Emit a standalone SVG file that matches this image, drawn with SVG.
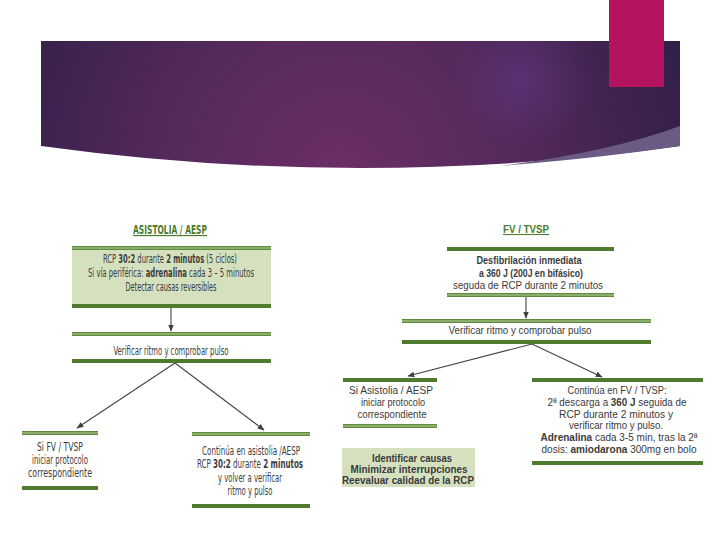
<svg xmlns="http://www.w3.org/2000/svg" width="720" height="540" viewBox="0 0 720 540">
<defs>
  <radialGradient id="bandGrad" gradientUnits="userSpaceOnUse" cx="340" cy="175" r="380">
    <stop offset="0" stop-color="#6b2e66"/>
    <stop offset="0.45" stop-color="#55295c"/>
    <stop offset="1" stop-color="#2e1f46"/>
  </radialGradient>
  <radialGradient id="glow" gradientUnits="userSpaceOnUse" cx="520" cy="80" r="70">
    <stop offset="0" stop-color="#5a3478" stop-opacity="0.8"/>
    <stop offset="1" stop-color="#5a3478" stop-opacity="0"/>
  </radialGradient>
  <marker id="arr" viewBox="0 0 10 10" refX="9" refY="5" markerWidth="7" markerHeight="7" orient="auto" markerUnits="userSpaceOnUse">
    <path d="M0,1 L10,5 L0,9 Z" fill="#3f3f3f"/>
  </marker>
  <style>
    .solid{fill:#4e7b2e}
    .dbl{fill:#5f8c3c}
    .dblin{fill:#b9cf9c}
    .cond{font-family:"Liberation Sans Narrow","DejaVu Sans Condensed","Liberation Sans",sans-serif;font-size:11.5px;fill:#3d3d3d}
    .hum{font-family:"Liberation Sans","Noto Sans",sans-serif;font-size:10.5px;fill:#3a3a3a}
    .b{font-weight:bold}
    .title{font-weight:bold;fill:#4a7a2a;text-decoration:underline}
    .conn{stroke:#444;stroke-width:1.1;fill:none}
  </style>
</defs>
<rect width="720" height="540" fill="#ffffff"/>

<!-- header band -->
<path d="M41,41 H680 V146 Q360,190 41,146 Z" fill="url(#bandGrad)"/>
<path d="M41,41 H680 V146 Q360,190 41,146 Z" fill="url(#glow)"/>
<path d="M680,126 Q610,152 500,166 Q600,158 680,146 Z" fill="#6b5a83"/>
<rect x="609" y="0" width="55" height="87" fill="#b5135f"/>

<!-- connectors -->
<g id="connectors">
  <line class="conn" x1="171" y1="308" x2="171" y2="331" marker-end="url(#arr)"/>
  <line class="conn" x1="175" y1="363" x2="77" y2="428" marker-end="url(#arr)"/>
  <line class="conn" x1="175" y1="363" x2="264" y2="430" marker-end="url(#arr)"/>
  <line class="conn" x1="526" y1="297" x2="526" y2="318" marker-end="url(#arr)"/>
  <line class="conn" x1="532" y1="344" x2="408" y2="376" marker-end="url(#arr)"/>
  <line class="conn" x1="532" y1="344" x2="602" y2="377" marker-end="url(#arr)"/>
</g>

<!-- LEFT: Asistolia -->
<g id="title-asistolia">
  <text class="cond title" x="170" y="234" text-anchor="middle" textLength="74" lengthAdjust="spacingAndGlyphs">ASISTOLIA / AESP</text>
</g>

<g id="box-asistolia">
  <rect x="72" y="249" width="199" height="56" fill="#d5e0bf"/>
  <rect class="dbl" x="72" y="246" width="199" height="4"/>
  <rect class="dblin" x="72" y="247.5" width="199" height="1"/>
  <rect class="solid" x="72" y="304" width="199" height="4"/>
  <text class="cond" x="170" y="263" text-anchor="middle" textLength="134" lengthAdjust="spacingAndGlyphs">RCP <tspan class="b">30:2</tspan> durante <tspan class="b">2 minutos</tspan> (5 ciclos)</text>
  <text class="cond" x="171" y="277" text-anchor="middle" textLength="166" lengthAdjust="spacingAndGlyphs">Si vía periférica: <tspan class="b">adrenalina</tspan> cada 3 – 5 minutos</text>
  <text class="cond" x="171" y="291" text-anchor="middle" textLength="91" lengthAdjust="spacingAndGlyphs">Detectar causas reversibles</text>
</g>

<g id="verif-left">
  <rect class="dbl" x="72" y="332" width="199" height="4"/>
  <rect class="dblin" x="72" y="333.5" width="199" height="1"/>
  <rect class="solid" x="72" y="359" width="199" height="4"/>
  <text class="cond" x="171" y="355" text-anchor="middle" textLength="115" lengthAdjust="spacingAndGlyphs">Verificar ritmo y comprobar pulso</text>
</g>

<g id="si-fv">
  <rect class="dbl" x="22" y="431" width="76" height="4"/>
  <rect class="dblin" x="22" y="432.5" width="76" height="1"/>
  <rect class="solid" x="22" y="486" width="76" height="4"/>
  <text class="cond" x="60" y="451" text-anchor="middle" textLength="46" lengthAdjust="spacingAndGlyphs">Si FV / TVSP</text>
  <text class="cond" x="60" y="464" text-anchor="middle" textLength="56" lengthAdjust="spacingAndGlyphs">iniciar protocolo</text>
  <text class="cond" x="60" y="477" text-anchor="middle" textLength="64" lengthAdjust="spacingAndGlyphs">correspondiente</text>
</g>

<g id="continua-asistolia">
  <rect class="dbl" x="192" y="432" width="118" height="4"/>
  <rect class="dblin" x="192" y="433.5" width="118" height="1"/>
  <rect class="solid" x="192" y="504" width="118" height="4"/>
  <text class="cond" x="251" y="455" text-anchor="middle" textLength="98" lengthAdjust="spacingAndGlyphs">Continúa en asistolia /AESP</text>
  <text class="cond" x="250" y="468" text-anchor="middle" textLength="106" lengthAdjust="spacingAndGlyphs">RCP <tspan class="b">30:2</tspan> durante <tspan class="b">2 minutos</tspan></text>
  <text class="cond" x="250" y="482" text-anchor="middle" textLength="64" lengthAdjust="spacingAndGlyphs">y volver a verificar</text>
  <text class="cond" x="250" y="495" text-anchor="middle" textLength="45" lengthAdjust="spacingAndGlyphs">ritmo y pulso</text>
</g>

<!-- RIGHT: FV / TVSP -->
<g id="title-fv">
  <text class="hum title" x="526" y="233" text-anchor="middle" textLength="46" lengthAdjust="spacingAndGlyphs">FV / TVSP</text>
</g>

<g id="box-desfib">
  <rect class="solid" x="447" y="247" width="167" height="4"/>
  <rect class="dbl" x="447" y="293" width="167" height="4"/>
  <rect class="dblin" x="447" y="294.5" width="167" height="1"/>
  <text class="hum b" x="529" y="264" text-anchor="middle" textLength="105" lengthAdjust="spacingAndGlyphs">Desfibrilación inmediata</text>
  <text class="hum b" x="531" y="277" text-anchor="middle" textLength="104" lengthAdjust="spacingAndGlyphs">a 360 J (200J en bifásico)</text>
  <text class="hum" x="528" y="289" text-anchor="middle" textLength="150" lengthAdjust="spacingAndGlyphs">seguda de RCP durante 2 minutos</text>
</g>

<g id="verif-right">
  <rect class="dbl" x="402" y="319" width="249" height="4"/>
  <rect class="dblin" x="402" y="320.5" width="249" height="1"/>
  <rect class="solid" x="402" y="340" width="249" height="4"/>
  <text class="hum" x="520" y="334" text-anchor="middle" textLength="143" lengthAdjust="spacingAndGlyphs">Verificar ritmo y comprobar pulso</text>
</g>

<g id="si-asistolia">
  <rect class="solid" x="343" y="378" width="94" height="4"/>
  <rect class="dbl" x="343" y="424" width="94" height="4"/>
  <rect class="dblin" x="343" y="425.5" width="94" height="1"/>
  <text class="hum" x="391" y="394" text-anchor="middle" textLength="84" lengthAdjust="spacingAndGlyphs">Si Asistolia  / AESP</text>
  <text class="hum" x="393" y="406" text-anchor="middle" textLength="64" lengthAdjust="spacingAndGlyphs">iniciar protocolo</text>
  <text class="hum" x="392" y="418" text-anchor="middle" textLength="69" lengthAdjust="spacingAndGlyphs">correspondiente</text>
</g>

<g id="identificar">
  <rect x="342" y="448" width="133" height="39" fill="#d5e0bf"/>
  <text class="hum b" x="412" y="462" text-anchor="middle" textLength="80" lengthAdjust="spacingAndGlyphs">Identificar causas</text>
  <text class="hum b" x="409" y="473" text-anchor="middle" textLength="117" lengthAdjust="spacingAndGlyphs">Minimizar interrupciones</text>
  <text class="hum b" x="408" y="484" text-anchor="middle" textLength="132" lengthAdjust="spacingAndGlyphs">Reevaluar calidad de la RCP</text>
</g>

<g id="continua-fv">
  <rect class="solid" x="532" y="378" width="171" height="4"/>
  <rect class="solid" x="532" y="461" width="171" height="4"/>
  <text class="hum" x="617" y="394" text-anchor="middle" textLength="99" lengthAdjust="spacingAndGlyphs">Continúa en FV / TVSP:</text>
  <text class="hum" x="617" y="406" text-anchor="middle" textLength="139" lengthAdjust="spacingAndGlyphs">2ª descarga a <tspan class="b">360 J</tspan> seguida de</text>
  <text class="hum" x="616" y="418" text-anchor="middle" textLength="114" lengthAdjust="spacingAndGlyphs">RCP durante 2 minutos y</text>
  <text class="hum" x="616" y="429" text-anchor="middle" textLength="94" lengthAdjust="spacingAndGlyphs">verificar ritmo y pulso.</text>
  <text class="hum" x="619" y="441" text-anchor="middle" textLength="157" lengthAdjust="spacingAndGlyphs"><tspan class="b">Adrenalina</tspan> cada 3-5 min, tras la 2ª</text>
  <text class="hum" x="619" y="453" text-anchor="middle" textLength="155" lengthAdjust="spacingAndGlyphs">dosis: <tspan class="b">amiodarona</tspan> 300mg en bolo</text>
</g>
</svg>
